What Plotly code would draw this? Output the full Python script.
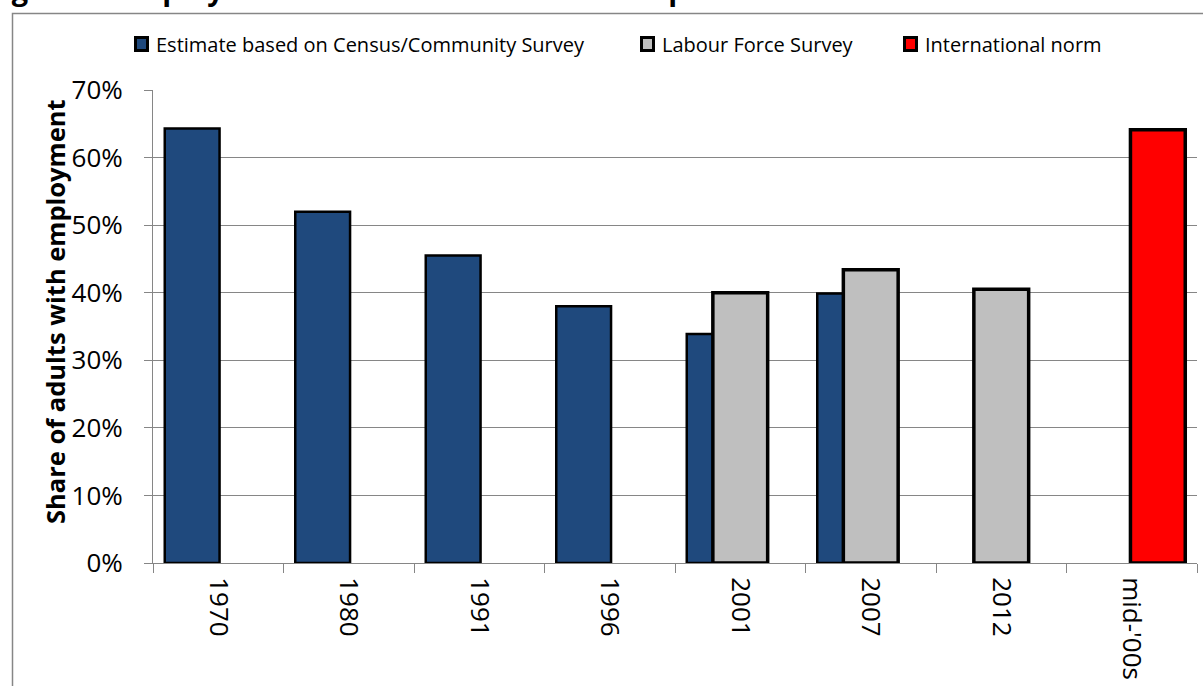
import plotly.graph_objects as go

categories = ["1970", "1980", "1991", "1996", "2001", "2007", "2012", "mid-'00s"]
census = [0.643, 0.520, 0.455, 0.380, 0.339, 0.399, None, None]
lfs = [None, None, None, None, 0.400, 0.434, 0.405, None]
intl = [None, None, None, None, None, None, None, 0.641]

series_names = ["Estimate based on Census/Community Survey", "Labour Force Survey", "International norm"]
series_colors = ["#1F497D", "#BFBFBF", "#FF0000"]

# layout in pixels
W, H = 1203, 686
L, R, T, B = 153, 6, 90, 123
PW, PH = W - L - R, H - T - B

def px(x):
    return (x - L) / PW

def py(y):
    return (H - B - y) / PH

fig = go.Figure()
for vals, name, col, lw, off in zip([census, lfs, intl], series_names, series_colors,
                                    [2.5, 3.5, 3.5], [-0.41, -0.21, -0.01]):
    fig.add_trace(go.Bar(x=categories, y=vals, name=name, showlegend=False,
                         marker=dict(color=col, line=dict(color="black", width=lw)),
                         width=0.42, offset=off))

# manual legend (squares + labels)
legend_sq_x = [134, 640, 903]
shapes = [dict(type="rect", xref="paper", yref="paper",
               x0=px(12.5), x1=px(1300), y0=py(800), y1=py(13.5),
               line=dict(color="#868686", width=1.5), layer="below")]
annotations = []
for sx, name, col in zip(legend_sq_x, series_names, series_colors):
    shapes.append(dict(type="rect", xref="paper", yref="paper",
                       x0=px(sx + 1.5), x1=px(sx + 13.5), y0=py(50.5), y1=py(37.5),
                       fillcolor=col, line=dict(color="black", width=3)))
    annotations.append(dict(text=name, xref="paper", yref="paper", x=px(sx + 20), y=py(44),
                            xanchor="left", yanchor="middle", showarrow=False,
                            font=dict(size=20, family="Open Sans", color="black")))

annotations.append(dict(text="<b>Share of adults with employment</b>", xref="paper", yref="paper",
                        x=px(55), y=py(312), xanchor="center", yanchor="middle", textangle=-90,
                        showarrow=False, font=dict(size=25.5, family="Open Sans", color="black")))
annotations.append(dict(text="<b>Figure 4: Employment ratio in South Africa compared to the international norm</b>",
                        xref="paper", yref="paper", x=px(1135), y=py(10.5),
                        xanchor="right", yanchor="bottom", showarrow=False,
                        font=dict(size=29, family="Open Sans", color="black")))

fig.update_layout(
    width=W, height=H,
    margin=dict(l=L, r=R, t=T, b=B, autoexpand=False),
    barmode="overlay",
    plot_bgcolor="white", paper_bgcolor="white",
    font=dict(family="Open Sans", color="black"),
    showlegend=False,
    xaxis=dict(type="category", tickangle=90, tickson="boundaries", ticks="outside",
               ticklen=9, tickcolor="#868686", showline=True, linecolor="#868686",
               linewidth=1, showgrid=False, tickfont=dict(size=26, family="Open Sans"),
               ticklabelstandoff=8, range=[-0.5, 7.5]),
    yaxis=dict(range=[0, 0.7], dtick=0.1, tickformat=".0%", ticks="outside", ticklen=8,
               tickcolor="#868686", showline=True, linecolor="#868686", linewidth=1,
               showgrid=True, gridcolor="#868686", gridwidth=1, zeroline=False,
               tickfont=dict(size=26, family="Open Sans"), ticklabelstandoff=16),
    shapes=shapes,
    annotations=annotations,
)

fig.write_html("out.html")
